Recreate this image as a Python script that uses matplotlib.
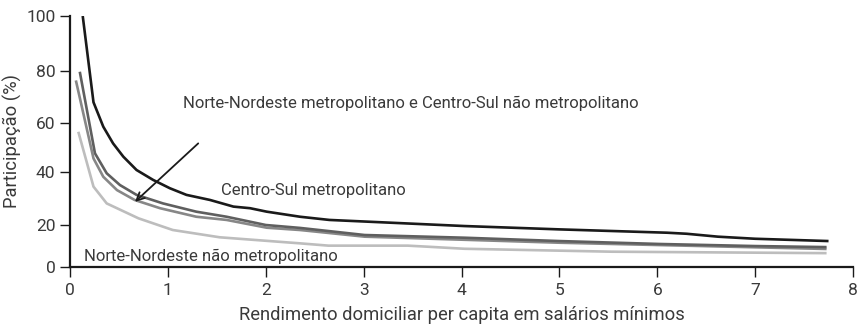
import numpy as np
import matplotlib
matplotlib.use("Agg")
import matplotlib.pyplot as plt

# Centro-Sul metropolitano
cs_met_x = [0.13, 0.24, 0.34, 0.44, 0.545, 0.68, 0.85, 1.02, 1.19, 1.43, 1.67, 1.84, 2.01, 2.35, 2.65, 4.03, 5.0, 6.1, 6.3, 6.62, 7.0, 7.75]
cs_met_y = [100, 68, 58.6, 51.7, 46.2, 40.7, 36.9, 33.8, 31.3, 29.4, 26.9, 26.3, 25.0, 23.1, 21.9, 19.5, 17.9, 16.3, 15.8, 14.4, 13.4, 12.3]

# Norte-Nordeste metropolitano
nn_met_x = [0.10, 0.255, 0.375, 0.51, 0.68, 0.95, 1.29, 1.6, 2.0, 2.35, 3.01, 4.03, 5.0, 6.02, 7.0, 7.73]
nn_met_y = [79.6, 47.6, 39.4, 35.0, 31.3, 28.1, 25.0, 23.1, 20.0, 18.6, 15.2, 13.9, 12.3, 10.9, 9.9, 9.4]

# Centro-Sul nao metropolitano
cs_nmet_x = [0.06, 0.24, 0.34, 0.48, 0.66, 0.92, 1.29, 1.6, 2.01, 2.35, 3.01, 5.0, 7.73]
cs_nmet_y = [76.3, 45.5, 38.1, 33.1, 29.4, 26.3, 23.1, 21.9, 18.7, 17.6, 14.4, 11.5, 8.5]

# Norte-Nordeste nao metropolitano
nn_nmet_x = [0.085, 0.24, 0.375, 0.7, 1.05, 1.53, 2.35, 2.64, 3.45, 3.65, 4.03, 5.53, 7.73]
nn_nmet_y = [56.5, 34.4, 28.1, 22.5, 17.6, 14.1, 11.2, 10.1, 10.1, 9.6, 8.6, 7.2, 6.5]

x_ticks = [0, 1, 2, 3, 4, 5, 6, 7, 8]
y_ticks = [0, 20, 40, 60, 80, 100]
# the printed y axis is not evenly spaced: pixel height of each tick above 0
y_tick_px = [0, 41.7, 95.0, 143.4, 196.0, 250.7]

plt.rcParams['font.family'] = ['Roboto', 'DejaVu Sans']
text_color = '#3a3a3a'
fs = 12.0
fs_label = 13.2


def fwd(v):
    return np.interp(v, y_ticks, y_tick_px)


def inv(p):
    return np.interp(p, y_tick_px, y_ticks)


fig = plt.figure(figsize=(8.58, 3.29), dpi=100)
ax = fig.add_axes([70 / 858, (329 - 266.7) / 329, (853 - 70) / 858, 250.7 / 329])
ax.set_yscale('function', functions=(fwd, inv))

ax.plot(nn_nmet_x, nn_nmet_y, color='#bdbdbd', lw=1.9, solid_capstyle='butt')
ax.plot(cs_nmet_x, cs_nmet_y, color='#878787', lw=1.9, solid_capstyle='butt')
ax.plot(nn_met_x, nn_met_y, color='#5f5f5f', lw=1.9, solid_capstyle='butt')
ax.plot(cs_met_x, cs_met_y, color='#1a1a1a', lw=1.9, solid_capstyle='butt')

ax.set_xlim(0, 8)
ax.set_ylim(0, 100)
ax.set_xticks(x_ticks)
ax.set_yticks(y_ticks)
ax.set_yticklabels([str(v) for v in y_ticks])
ax.yaxis.set_minor_locator(matplotlib.ticker.NullLocator())

for side in ['top', 'right']:
    ax.spines[side].set_visible(False)
for side in ['left', 'bottom']:
    ax.spines[side].set_linewidth(1.6)
    ax.spines[side].set_color('#1a1a1a')
ax.tick_params(direction='out', length=7.5, width=1.0, color='#1a1a1a',
               labelsize=12.5, labelcolor=text_color)
ax.tick_params(axis='x', pad=4)
ax.tick_params(axis='y', pad=3)

ax.set_xlabel('Rendimento domiciliar per capita em salários mínimos',
              fontsize=fs_label, color=text_color, labelpad=6)
ax.set_ylabel('Participação (%)', fontsize=fs_label, color=text_color, labelpad=3)

ax.text(1.15, 67.7, 'Norte-Nordeste metropolitano e Centro-Sul não metropolitano',
        fontsize=fs, color=text_color, va='center', ha='left')
ax.text(1.54, 33.1, 'Centro-Sul metropolitano',
        fontsize=fs, color=text_color, va='center', ha='left')
ax.text(0.14, 5.1, 'Norte-Nordeste não metropolitano',
        fontsize=fs, color=text_color, va='center', ha='left')
ax.annotate('', xy=(0.664, 28.7), xytext=(1.31, 51.7),
            arrowprops=dict(arrowstyle='->', color='#1a1a1a', lw=1.3,
                            mutation_scale=14, shrinkA=0, shrinkB=0))

fig.savefig('out.png', dpi=100)
